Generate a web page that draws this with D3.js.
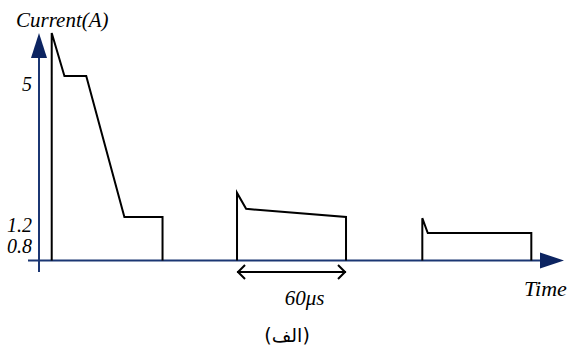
<!DOCTYPE html>
<html>
<head>
<meta charset="utf-8">
<script src="https://cdn.jsdelivr.net/npm/d3@7"></script>
<style>
  html, body { margin: 0; padding: 0; background: #fff; }
  svg { display: block; }
</style>
</head>
<body>
<svg id="chart" width="568" height="350"></svg>
<script>
// Current pulses: time in microseconds, current in amperes
const pulse1Time = [7, 7, 14, 26, 47, 68, 68];
const pulse1Current = [0, 6, 5, 5, 1.2, 1.2, 0];
const pulse2Time = [109, 109, 114, 169, 169];
const pulse2Current = [0, 1.85, 1.42, 1.2, 0];
const pulse3Time = [211, 211, 214, 271, 271];
const pulse3Current = [0, 1.17, 0.8, 0.8, 0];

const yTicks = [0.8, 1.2, 5];
const spanStart = 109;
const spanEnd = 169;
const spanLabel = "60\u03bcs";
const yTitle = "Current(A)";
const xTitle = "Time";
const caption = "(\u0627\u0644\u0641)";

const svg = d3.select("#chart");
const axisColor = "#1b3673";
const headColor = "#0c2461";
const serif = "'Liberation Serif', 'Times New Roman', serif";

function italic(sel, size) {
  return sel.attr("font-family", serif).attr("font-style", "italic")
    .attr("font-size", size).attr("fill", "#000");
}

// Time scale: the 60 µs span covers 109 px
const x = d3.scaleLinear().domain([0, 60]).range([39, 148]);
// Schematic current scale, piecewise so the low levels stay readable
const y = d3.scaleLinear()
  .domain([0, 0.8, 1.2, 5, 6])
  .range([260.5, 233, 217, 76, 33]);

// Axes
svg.append("line")
  .attr("x1", 28).attr("x2", 545)
  .attr("y1", y(0)).attr("y2", y(0))
  .attr("stroke", axisColor).attr("stroke-width", 2);
svg.append("line")
  .attr("x1", x(0)).attr("x2", x(0))
  .attr("y1", 272).attr("y2", 50)
  .attr("stroke", axisColor).attr("stroke-width", 2);
// Arrow heads
svg.append("path")
  .attr("d", `M${x(0) - 8},58 L${x(0)},33 L${x(0) + 8},58 Z`)
  .attr("fill", headColor);
svg.append("path")
  .attr("d", `M540,${y(0) - 8} L564,${y(0)} L540,${y(0) + 8} Z`)
  .attr("fill", headColor);

// Tick labels, set just below their levels; the lowest one drops a little more
const yAxis = d3.axisLeft(y).tickValues(yTicks).tickSize(0).tickPadding(7)
  .tickFormat(d3.format("~g"));
const gy = svg.append("g").attr("transform", `translate(${x(0)},0)`).call(yAxis);
gy.select(".domain").remove();
gy.attr("font-family", null).attr("font-size", null);
italic(gy.selectAll("text"), 20)
  .attr("dy", "0.35em")
  .attr("y", d => d === d3.min(yTicks) ? 12 : 7);

// Pulses
const line = d3.line().x(d => x(d[0])).y(d => y(d[1]));
[[pulse1Time, pulse1Current], [pulse2Time, pulse2Current], [pulse3Time, pulse3Current]]
  .forEach(([t, c]) => {
    svg.append("path")
      .datum(d3.zip(t, c))
      .attr("d", line)
      .attr("fill", "none")
      .attr("stroke", "#000")
      .attr("stroke-width", 2)
      .attr("stroke-linejoin", "miter");
  });

// 60 µs span marker
const sy = 272;
svg.append("line")
  .attr("x1", x(spanStart)).attr("x2", x(spanEnd))
  .attr("y1", sy).attr("y2", sy)
  .attr("stroke", "#000").attr("stroke-width", 2);
svg.append("path")
  .attr("d", `M${x(spanStart) + 8},${sy - 7} L${x(spanStart) + 1},${sy} L${x(spanStart) + 8},${sy + 7}`)
  .attr("fill", "none").attr("stroke", "#000").attr("stroke-width", 2);
svg.append("path")
  .attr("d", `M${x(spanEnd) - 8},${sy - 7} L${x(spanEnd) - 1},${sy} L${x(spanEnd) - 8},${sy + 7}`)
  .attr("fill", "none").attr("stroke", "#000").attr("stroke-width", 2);

// Text
italic(svg.append("text"), 21).attr("x", 16).attr("y", 27).text(yTitle);
italic(svg.append("text"), 22).attr("x", 524).attr("y", 296).text(xTitle);
italic(svg.append("text"), 21).attr("x", (x(spanStart) + x(spanEnd)) / 2 + 13)
  .attr("y", 305).attr("text-anchor", "middle").text(spanLabel);
svg.append("text")
  .attr("font-family", "'DejaVu Sans', 'Noto Sans', sans-serif")
  .attr("font-size", 19).attr("fill", "#000")
  .attr("x", 287).attr("y", 342)
  .attr("text-anchor", "middle").text(caption);
</script>
</body>
</html>
